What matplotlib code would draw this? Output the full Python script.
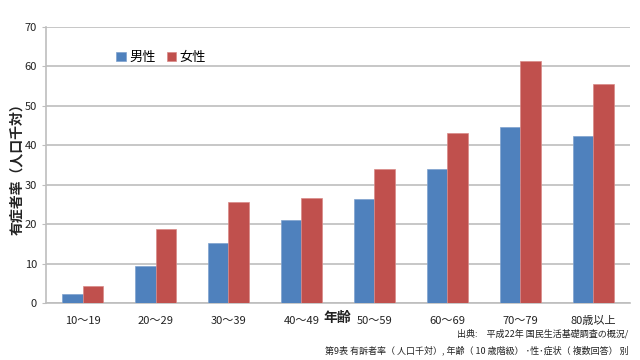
import matplotlib.pyplot as plt
import numpy as np

plt.rcParams['font.family'] = ['Noto Sans CJK JP', 'DejaVu Sans']

ages = ['10〜19', '20〜29', '30〜39', '40〜49', '50〜59', '60〜69', '70〜79', '80歳以上']
male = [2.4, 9.4, 15.3, 21.2, 26.4, 34.1, 44.5, 42.4]
female = [4.4, 18.9, 25.6, 26.6, 34.1, 43.1, 61.3, 55.6]

fig = plt.figure(figsize=(6.4, 3.6), dpi=100)
ax = fig.add_axes([0.072, 0.1575, 0.912, 0.7685])

x = np.arange(len(ages))
w = 0.28
ax.bar(x - w / 2, male, w, color='#4F81BD', edgecolor='#7FA2CE', linewidth=0.5, label='男性', zorder=3)
ax.bar(x + w / 2, female, w, color='#C0504D', edgecolor='#D98A88', linewidth=0.5, label='女性', zorder=3)

ax.set_xlim(-0.5, len(ages) - 0.5)
ax.set_ylim(0, 70)
ax.set_yticks(range(0, 71, 10))
ax.yaxis.grid(True, color='#BEBEBE', linewidth=1.2, zorder=0)
ax.set_xticks(x)
ax.set_xticklabels(ages, fontsize=8, color='#222222')
ax.tick_params(axis='y', labelsize=8, colors='#222222', length=3, color='#BEBEBE')
ax.tick_params(axis='x', length=0, pad=9)
for s in ['top', 'right']:
    ax.spines[s].set_visible(False)
ax.spines['left'].set_color('#BEBEBE')
ax.spines['bottom'].set_color('#BEBEBE')
ax.spines['left'].set_linewidth(1.2)
ax.spines['bottom'].set_linewidth(1.2)

ax.legend(loc='upper left', bbox_to_anchor=(0.1, 0.955), ncol=2, frameon=False,
          fontsize=9.5, handlelength=0.7, handleheight=0.7, handletextpad=0.3,
          columnspacing=0.8)

fig.text(0.027, 0.54, '有症者率（人口千対）', rotation=90, ha='center', va='center',
         fontsize=10, fontweight='bold', color='#222222')
fig.text(0.527, 0.117, '年齢', ha='center', va='center', fontsize=10,
         fontweight='bold', color='#222222')
fig.text(0.982, 0.072, '出典:　平成22年 国民生活基礎調査の概況/', ha='right', va='center',
         fontsize=6.5, color='#222222')
fig.text(0.982, 0.027, '第9表 有訴者率（ 人口千対）, 年齢（ 10 歳階級） ･性･症状（ 複数回答） 別',
         ha='right', va='center', fontsize=6.5, color='#222222')

fig.savefig('out.png', dpi=100)
